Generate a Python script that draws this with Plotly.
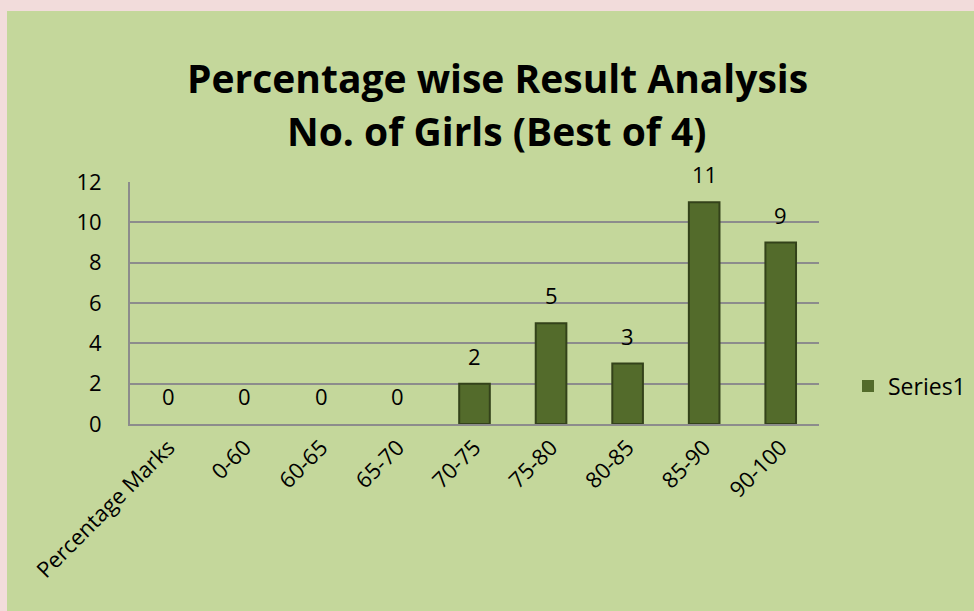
import plotly.graph_objects as go

categories = ["Percentage Marks", "0-60", "60-65", "65-70", "70-75", "75-80", "80-85", "85-90", "90-100"]
girls = [0, 0, 0, 0, 2, 5, 3, 11, 9]
y_ticks = [0, 2, 4, 6, 8, 10, 12]
series_name = "Series1"
title_lines = ["Percentage wise Result Analysis", "No. of Girls (Best of 4)"]

FONT = "Open Sans, Calibri, sans-serif"
PX_L, PX_R, PX_T, PX_B = 130, 819, 182, 424
PW, PH = PX_R - PX_L, PX_B - PX_T


def px_to_paper_x(px):
    return (px - PX_L) / PW


def px_to_paper_y(py):
    return (PX_B - py) / PH


fig = go.Figure()
fig.add_trace(go.Bar(
    x=categories, y=girls, name=series_name,
    marker=dict(color="#536b2b",
                line=dict(color="#33421a", width=[0 if v == 0 else 2 for v in girls])),
    showlegend=True, hoverinfo="x+y",
))

annotations = []
for c, v in zip(categories, girls):
    annotations.append(dict(x=c, y=v, xref="x", yref="y", text=str(v), showarrow=False,
                            yanchor="bottom", yshift=11,
                            font=dict(size=22, family=FONT, color="black")))
for i, line in enumerate(title_lines):
    annotations.append(dict(x=px_to_paper_x(497), y=px_to_paper_y([77, 130][i]),
                            xref="paper", yref="paper", text="<b>" + line + "</b>",
                            showarrow=False, xanchor="center", yanchor="middle",
                            font=dict(size=39, family=FONT, color="black")))

fig.update_layout(
    width=974, height=611,
    margin=dict(l=PX_L, r=974 - PX_R, t=PX_T, b=611 - PX_B, autoexpand=False),
    paper_bgcolor="#f2dcdb",
    plot_bgcolor="#ebf0de",
    font=dict(family=FONT, size=22, color="black"),
    bargap=0.6,
    showlegend=True,
    legend=dict(x=px_to_paper_x(848), xanchor="left", y=px_to_paper_y(386), yanchor="middle",
                bgcolor="rgba(0,0,0,0)", font=dict(size=23, family=FONT),
                itemwidth=30),
    annotations=annotations,
    shapes=[dict(type="rect", xref="paper", yref="paper",
                 x0=px_to_paper_x(7), x1=px_to_paper_x(990),
                 y0=px_to_paper_y(630), y1=px_to_paper_y(11),
                 fillcolor="#c4d79b", line=dict(width=0), layer="below")],
)
fig.update_xaxes(tickangle=-45, showline=True, linecolor="#8c8c8c", linewidth=2,
                 showgrid=False, tickfont=dict(size=22), automargin=False)
fig.update_yaxes(range=[0, 12], tickvals=y_ticks, showline=True, linecolor="#8c8c8c", linewidth=2,
                 gridcolor="#8c8c8c", gridwidth=2, zeroline=False,
                 ticklabelstandoff=22, tickfont=dict(size=22), automargin=False)

fig.write_html("out.html", post_script="document.body.style.margin='0px';",
               config={"displayModeBar": False})
